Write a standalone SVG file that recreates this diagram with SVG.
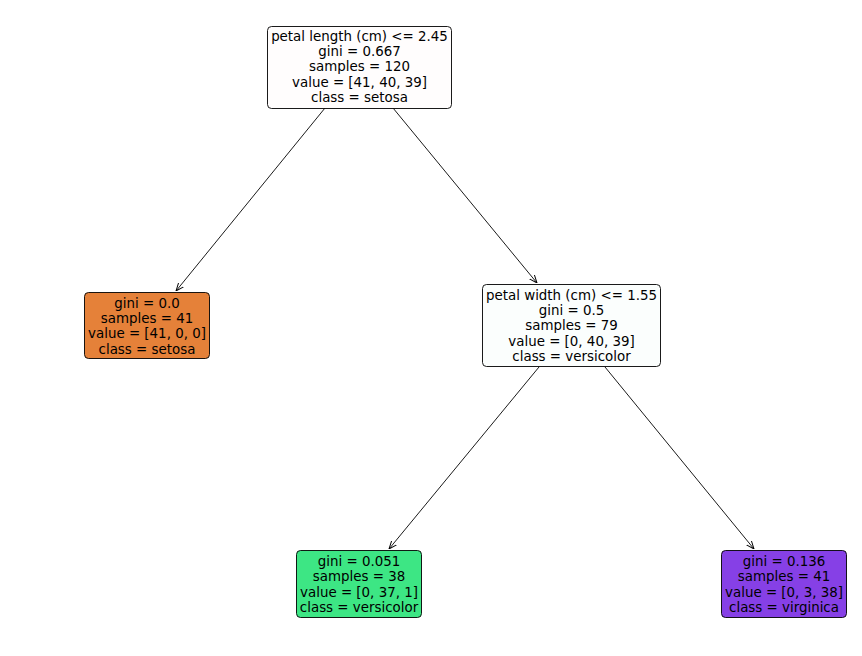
<svg xmlns="http://www.w3.org/2000/svg" width="862" height="656" viewBox="0 0 862 656">
<style>
.box{stroke:#000;stroke-width:0.9;}
text{font-family:"DejaVu Sans",sans-serif;font-size:13.4px;text-anchor:middle;fill:#000;}
.edge{stroke:#000;stroke-width:0.9;fill:none;}
</style>
<defs>
<marker id="arr" viewBox="0 0 10 10" refX="10" refY="5" markerWidth="8" markerHeight="8" markerUnits="userSpaceOnUse" orient="auto">
<path d="M0,1 L10,5 L0,9" fill="none" stroke="#000" stroke-width="1.2"/>
</marker>
</defs>
<rect width="862" height="656" fill="#fff"/>
<g id="connectors">
<line class="edge" x1="325" y1="108" x2="176" y2="291" marker-end="url(#arr)"/>
<line class="edge" x1="393" y1="108" x2="537" y2="283" marker-end="url(#arr)"/>
<line class="edge" x1="539" y1="367" x2="389" y2="549" marker-end="url(#arr)"/>
<line class="edge" x1="605" y1="367" x2="754" y2="549" marker-end="url(#arr)"/>
</g>
<g id="node0">
<rect class="box" x="267.5" y="26.5" width="184" height="82" rx="4" fill="#fffdfd"/>
<text x="359.5" y="41">petal length (cm) &lt;= 2.45</text>
<text x="359.5" y="56">gini = 0.667</text>
<text x="359.5" y="71">samples = 120</text>
<text x="359.5" y="87">value = [41, 40, 39]</text>
<text x="359.5" y="102">class = setosa</text>
</g>
<g id="node1">
<rect class="box" x="84.5" y="292.5" width="125" height="66" rx="4" fill="#e58139"/>
<text x="147" y="308">gini = 0.0</text>
<text x="147" y="323">samples = 41</text>
<text x="147" y="338">value = [41, 0, 0]</text>
<text x="147" y="354">class = setosa</text>
</g>
<g id="node2">
<rect class="box" x="482.5" y="284.5" width="178" height="82" rx="4" fill="#fbfefd"/>
<text x="571.5" y="300">petal width (cm) &lt;= 1.55</text>
<text x="571.5" y="315">gini = 0.5</text>
<text x="571.5" y="330">samples = 79</text>
<text x="571.5" y="346">value = [0, 40, 39]</text>
<text x="571.5" y="361">class = versicolor</text>
</g>
<g id="node3">
<rect class="box" x="296.5" y="550.5" width="125" height="67" rx="4" fill="#3de684"/>
<text x="359" y="566">gini = 0.051</text>
<text x="359" y="581">samples = 38</text>
<text x="359" y="597">value = [0, 37, 1]</text>
<text x="359" y="612">class = versicolor</text>
</g>
<g id="node4">
<rect class="box" x="721.5" y="550.5" width="125" height="67" rx="4" fill="#8640e6"/>
<text x="784" y="566">gini = 0.136</text>
<text x="784" y="581">samples = 41</text>
<text x="784" y="597">value = [0, 3, 38]</text>
<text x="784" y="612">class = virginica</text>
</g>
</svg>
